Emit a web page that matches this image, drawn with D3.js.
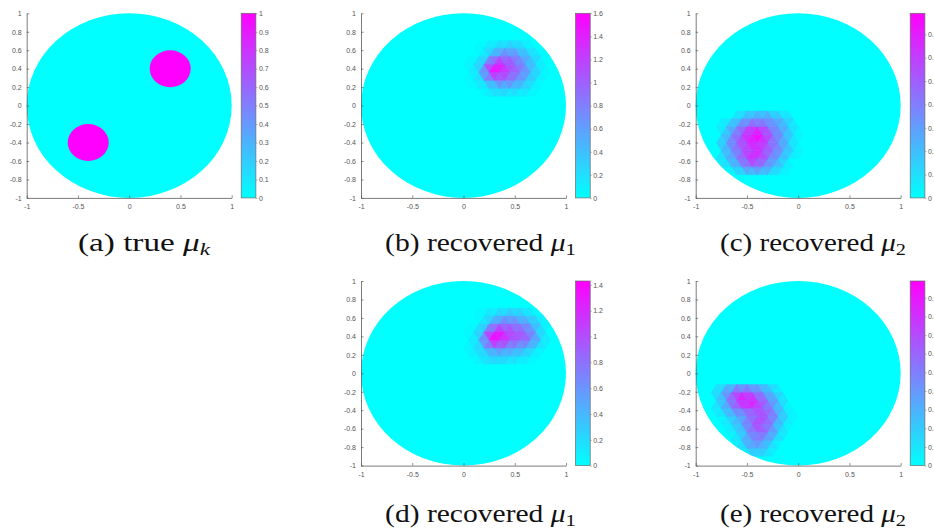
<!DOCTYPE html>
<html>
<head>
<meta charset="utf-8">
<script src="https://cdn.jsdelivr.net/npm/d3@7"></script>
<style>
  html, body { margin: 0; padding: 0; background: #fff; }
  svg { display: block; }
</style>
</head>
<body>
<svg id="fig" width="934" height="529"></svg>
<script>
// ---- shared axis ticks ----
const xTickValues = [-1, -0.5, 0, 0.5, 1];
const xTickLabels = ["-1", "-0.5", "0", "0.5", "1"];
const yTickValues = [-1, -0.8, -0.6, -0.4, -0.2, 0, 0.2, 0.4, 0.6, 0.8, 1];
const yTickLabels = ["-1", "-0.8", "-0.6", "-0.4", "-0.2", "0", "0.2", "0.4", "0.6", "0.8", "1"];

// ---- colour-bar ranges and ticks, one per panel ----
const barMax = [1, 1.6, 0.79, 1.43, 0.99];
const barTicksA = [0, 0.1, 0.2, 0.3, 0.4, 0.5, 0.6, 0.7, 0.8, 0.9, 1];
const barTicksB = [0, 0.2, 0.4, 0.6, 0.8, 1, 1.2, 1.4, 1.6];
const barTicksC = [0, 0.1, 0.2, 0.3, 0.4, 0.5, 0.6, 0.7];
const barTicksD = [0, 0.2, 0.4, 0.6, 0.8, 1, 1.2, 1.4];
const barTicksE = [0, 0.1, 0.2, 0.3, 0.4, 0.5, 0.6, 0.7, 0.8, 0.9];

// ---- captions ----
const captionLead = ["(a) true ", "(b) recovered ", "(c) recovered ", "(d) recovered ", "(e) recovered "];
const captionSub = ["k", "1", "2", "1", "2"];

// ---- true coefficient: two circular inclusions in the unit disk ----
const inclusionCenters = [[0.4, 0.4], [-0.4, -0.4]];
const inclusionRadius = 0.2;
const inclusionValue = 1;

// ---- recovered coefficients: nodal values on a triangular lattice ----
// rows run bottom to top; odd rows are shifted by half a step
const meshStep = 0.1;

const recB_origin = [0.0, 0.1];
const recB_nodes = [
  [0, 0, 0, 0.15, 0.1, 0, 0, 0, 0],
  [0, 0, 0.15, 0.3, 0.35, 0.3, 0.15, 0, 0],
  [0, 0.1, 0.3, 0.8, 0.9, 0.7, 0.4, 0.1, 0],
  [0, 0.2, 1.3, 1.45, 1.1, 0.9, 0.5, 0.15, 0],
  [0, 0.15, 0.5, 1.6, 1.2, 1.0, 0.6, 0.2, 0],
  [0, 0, 0.3, 0.8, 0.9, 0.6, 0.4, 0.1, 0],
  [0, 0, 0.1, 0.3, 0.4, 0.4, 0.2, 0, 0],
  [0, 0, 0, 0, 0.1, 0.1, 0, 0, 0]
];

const recC_origin = [-0.8, -0.75];
const recC_nodes = [
  [0, 0, 0, 0.1, 0.15, 0.1, 0, 0, 0],
  [0, 0.1, 0.3, 0.4, 0.35, 0.25, 0.1, 0, 0],
  [0, 0.2, 0.35, 0.6, 0.7, 0.4, 0.25, 0.05, 0],
  [0.1, 0.3, 0.5, 0.65, 0.6, 0.45, 0.3, 0.1, 0],
  [0.05, 0.3, 0.5, 0.6, 0.7, 0.5, 0.35, 0.15, 0],
  [0.05, 0.3, 0.55, 0.79, 0.75, 0.45, 0.3, 0.1, 0],
  [0, 0.15, 0.35, 0.5, 0.55, 0.4, 0.3, 0.15, 0],
  [0, 0.05, 0.2, 0.3, 0.35, 0.3, 0.2, 0.05, 0],
  [0, 0, 0, 0.1, 0.1, 0.1, 0, 0, 0]
];

const recD_origin = [0.0, 0.1];
const recD_nodes = [
  [0, 0, 0.1, 0.15, 0.1, 0, 0, 0, 0],
  [0, 0.1, 0.25, 0.3, 0.3, 0.25, 0.1, 0, 0],
  [0, 0.15, 0.3, 0.7, 0.6, 0.5, 0.4, 0.15, 0],
  [0, 0.2, 1.2, 1.35, 1.0, 0.9, 0.8, 0.3, 0],
  [0, 0.1, 0.5, 1.43, 1.1, 1.0, 0.9, 0.4, 0],
  [0, 0, 0.3, 0.7, 0.8, 0.6, 0.5, 0.2, 0],
  [0, 0, 0.1, 0.3, 0.4, 0.4, 0.3, 0.1, 0],
  [0, 0, 0, 0, 0.1, 0.1, 0, 0, 0]
];

const recE_origin = [-0.85, -0.9];
const recE_nodes = [
  [0, 0, 0, 0, 0.1, 0.1, 0, 0, 0],
  [0, 0, 0, 0.2, 0.3, 0.2, 0, 0, 0],
  [0, 0, 0, 0.2, 0.5, 0.4, 0.15, 0, 0],
  [0, 0, 0.1, 0.3, 0.6, 0.55, 0.25, 0, 0],
  [0, 0, 0.15, 0.35, 0.7, 0.7, 0.35, 0.1, 0],
  [0, 0.1, 0.3, 0.4, 0.65, 0.7, 0.4, 0.1, 0],
  [0, 0.2, 0.45, 0.6, 0.75, 0.65, 0.4, 0.1, 0],
  [0.1, 0.35, 0.8, 0.99, 0.8, 0.5, 0.3, 0, 0],
  [0.05, 0.3, 0.6, 0.75, 0.55, 0.4, 0.2, 0, 0],
  [0, 0.1, 0.2, 0.3, 0.3, 0.15, 0.05, 0, 0]
];

// ---- layout ----
const axW = 205, axH = 184.6;
const panelLeft = [26.7, 361, 695.7, 361, 695.7];
const panelTop = [13.3, 13.3, 13.3, 281, 281];
const barGap = 214.5, barW = 14.7;
const captionX = [144, 480.5, 813, 480.5, 813];
const captionY = [251, 251, 251, 522, 522];
const captionWidth = [132, 191, 186, 191, 186];

const axisColor = "#5a5a5a";
const tickFont = "'Liberation Sans', Arial, Helvetica, sans-serif";
const captionFont = "'Liberation Serif', 'DejaVu Serif', 'Noto Serif', serif";

// MATLAB "cool" colormap: cyan -> magenta
const cool = t => {
  t = Math.max(0, Math.min(1, t));
  return d3.rgb(255 * t, 255 * (1 - t), 255).formatHex();
};

const svg = d3.select("#fig");
const defs = svg.append("defs");

const grad = defs.append("linearGradient").attr("id", "coolGrad")
  .attr("x1", 0).attr("y1", 1).attr("x2", 0).attr("y2", 0);
grad.append("stop").attr("offset", "0%").attr("stop-color", cool(0));
grad.append("stop").attr("offset", "100%").attr("stop-color", cool(1));

// build triangles from a lattice of nodal values
function latticeTriangles(origin, nodes, h) {
  const dy = h * Math.sqrt(3) / 2;
  const tris = [];
  const pt = (i, j) => [origin[0] + i * h + (j % 2 ? h / 2 : 0), origin[1] + j * dy, nodes[j][i]];
  for (let j = 0; j < nodes.length - 1; j++) {
    const n = nodes[j].length;
    for (let i = 0; i < n - 1; i++) {
      let t1, t2;
      if (j % 2 === 0) {
        t1 = [pt(i, j), pt(i + 1, j), pt(i, j + 1)];
        t2 = [pt(i, j + 1), pt(i + 1, j + 1), pt(i + 1, j)];
      } else {
        t1 = [pt(i, j + 1), pt(i + 1, j + 1), pt(i, j)];
        t2 = [pt(i, j), pt(i + 1, j), pt(i + 1, j + 1)];
      }
      [t1, t2].forEach(t => {
        const v = d3.mean(t, p => p[2]);
        if (v > 0.02) tris.push({ pts: t.map(p => [p[0], p[1]]), v });
      });
    }
  }
  // draw low values first so peaks sit on top
  return tris.sort((a, b) => a.v - b.v);
}

const panels = [
  { ticks: barTicksA, kind: "true" },
  { ticks: barTicksB, origin: recB_origin, nodes: recB_nodes },
  { ticks: barTicksC, origin: recC_origin, nodes: recC_nodes },
  { ticks: barTicksD, origin: recD_origin, nodes: recD_nodes },
  { ticks: barTicksE, origin: recE_origin, nodes: recE_nodes }
];

panels.forEach((p, k) => {
  const x = d3.scaleLinear().domain([-1, 1]).range([panelLeft[k], panelLeft[k] + axW]);
  const y = d3.scaleLinear().domain([-1, 1]).range([panelTop[k] + axH, panelTop[k]]);
  const c = d3.scaleLinear().domain([0, barMax[k]]).range([0, 1]);
  const g = svg.append("g");

  const clipId = "disk" + k;
  defs.append("clipPath").attr("id", clipId).append("ellipse")
    .attr("cx", x(0)).attr("cy", y(0))
    .attr("rx", x(1) - x(0)).attr("ry", y(0) - y(1));

  // background disk (value 0)
  g.append("ellipse")
    .attr("cx", x(0)).attr("cy", y(0))
    .attr("rx", x(1) - x(0)).attr("ry", y(0) - y(1))
    .attr("fill", cool(c(0)));

  const field = g.append("g").attr("clip-path", `url(#${clipId})`);
  if (p.kind === "true") {
    field.selectAll("ellipse").data(inclusionCenters).join("ellipse")
      .attr("cx", d => x(d[0])).attr("cy", d => y(d[1]))
      .attr("rx", x(inclusionRadius) - x(0)).attr("ry", y(0) - y(inclusionRadius))
      .attr("fill", cool(c(inclusionValue)));
  } else {
    const tris = latticeTriangles(p.origin, p.nodes, meshStep);
    const line = d3.line().x(d => x(d[0])).y(d => y(d[1]));
    field.selectAll("path").data(tris).join("path")
      .attr("d", d => line(d.pts) + "Z")
      .attr("fill", d => cool(c(d.v)))
      .attr("stroke", d => cool(c(d.v)))
      .attr("stroke-width", 0.4)
      .attr("stroke-linejoin", "round");
  }

  // axes: left and bottom only, ticks pointing inward
  const xAxis = d3.axisBottom(x).tickValues(xTickValues)
    .tickFormat((d, i) => xTickLabels[i]).tickSizeInner(-2.5).tickSizeOuter(0).tickPadding(6);
  const yAxis = d3.axisLeft(y).tickValues(yTickValues)
    .tickFormat((d, i) => yTickLabels[i]).tickSizeInner(-2.5).tickSizeOuter(0).tickPadding(5);

  const gx = g.append("g").attr("transform", `translate(0,${y(-1)})`).call(xAxis);
  const gy = g.append("g").attr("transform", `translate(${x(-1)},0)`).call(yAxis);
  [gx, gy].forEach(a => {
    a.select(".domain").attr("stroke", axisColor).attr("stroke-width", 0.8);
    a.selectAll(".tick line").attr("stroke", axisColor).attr("stroke-width", 0.7);
    a.selectAll(".tick text").attr("fill", "#555")
      .attr("font-family", tickFont).attr("font-size", 7);
  });

  // colour bar
  const bx = panelLeft[k] + barGap;
  const cb = d3.scaleLinear().domain([0, barMax[k]]).range([panelTop[k] + axH, panelTop[k]]);
  g.append("rect")
    .attr("x", bx).attr("y", panelTop[k]).attr("width", barW).attr("height", axH)
    .attr("fill", "url(#coolGrad)")
    .attr("stroke", "#6a6a6a").attr("stroke-width", 0.7);
  const cAxis = d3.axisRight(cb).tickValues(p.ticks).tickFormat(d3.format("~g"))
    .tickSizeInner(1.5).tickSizeOuter(0).tickPadding(1.5);
  const gc = g.append("g").attr("transform", `translate(${bx + barW},0)`).call(cAxis);
  gc.select(".domain").remove();
  gc.selectAll(".tick line").attr("stroke", "#777").attr("stroke-width", 0.6);
  gc.selectAll(".tick text").attr("fill", "#555")
    .attr("font-family", tickFont).attr("font-size", 7);

  // caption, stretched horizontally to the width of the typeset original
  const t = svg.append("text")
    .attr("text-anchor", "middle")
    .attr("font-family", captionFont)
    .attr("font-size", 25).attr("fill", "#111");
  t.append("tspan").text(captionLead[k]);
  t.append("tspan").attr("font-style", "italic").text("μ");
  t.append("tspan").attr("font-size", 17.5).attr("dy", 4)
    .attr("font-style", captionSub[k] === "k" ? "italic" : "normal")
    .text(captionSub[k]);
  const w = t.node().getComputedTextLength() || captionWidth[k];
  const sx = captionWidth[k] / w;
  t.attr("transform", `translate(${captionX[k]},${captionY[k]}) scale(${sx},1)`);
});
</script>
</body>
</html>
